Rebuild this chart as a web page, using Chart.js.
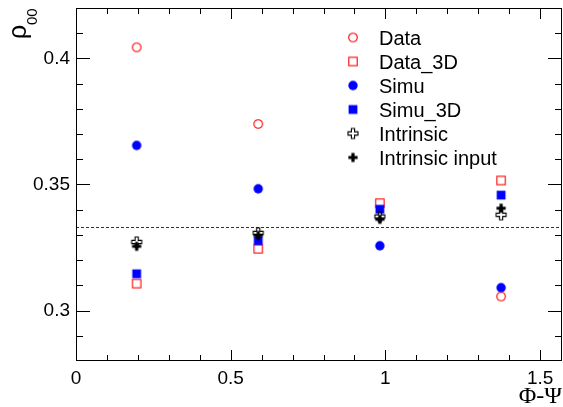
<!DOCTYPE html>
<html lang="en">
<head>
<meta charset="UTF-8">
<title>rho00 vs Phi-Psi</title>
<script src="https://cdn.jsdelivr.net/npm/chart.js@4.4.7/dist/chart.umd.min.js"></script>
<style>
*{margin:0;padding:0}
body{background:#fff;width:563px;height:407px;overflow:hidden}
canvas{display:block}
</style>
</head>
<body>
<canvas id="rho" width="563" height="407"></canvas>
<script>
// bin centres in Phi-Psi and rho00 per sample
const phiPsi = [0.196, 0.589, 0.982, 1.374];
const dataVals = [0.4044, 0.3740, null, 0.3056];
const data3DVals = [0.3107, 0.3245, 0.3426, 0.3516];
const simuVals = [0.3655, 0.3483, 0.3257, 0.3091];
const simu3DVals = [0.3146, 0.3277, 0.3402, 0.3458];
const intrinsicVals = [0.3272, 0.3308, 0.3373, 0.3380];
const intrinsicInputVals = [0.3255, 0.3298, 0.3362, 0.3406];
const refLevel = 1 / 3;

const xTicks = [0, 0.5, 1, 1.5];
const yTicks = [0.3, 0.35, 0.4];
const labels = ['Data', 'Data_3D', 'Simu', 'Simu_3D', 'Intrinsic', 'Intrinsic input'];

const red = '#ff0000', blue = '#0000ff', black = '#000000';
const sans = "'Liberation Sans', Arial, sans-serif";

// marker images (ROOT style 24, 25, 20, 21, 28, 34)
function marker(draw) {
  const c = document.createElement('canvas');
  c.width = c.height = 14;
  const g = c.getContext('2d');
  g.translate(7, 7);
  draw(g);
  return c;
}
function plusPath(g, s, a) {
  g.beginPath();
  g.moveTo(-a, -s); g.lineTo(a, -s); g.lineTo(a, -a); g.lineTo(s, -a);
  g.lineTo(s, a); g.lineTo(a, a); g.lineTo(a, s); g.lineTo(-a, s);
  g.lineTo(-a, a); g.lineTo(-s, a); g.lineTo(-s, -a); g.lineTo(-a, -a);
  g.closePath();
}
const openCircle = marker(g => { g.strokeStyle = red; g.lineWidth = 1.1; g.beginPath(); g.arc(0, 0, 4.3, 0, Math.PI * 2); g.stroke(); });
const openSquare = marker(g => { g.strokeStyle = red; g.lineWidth = 1.1; g.strokeRect(-4.2, -4.2, 8.4, 8.4); });
const fullCircle = marker(g => { g.fillStyle = blue; g.beginPath(); g.arc(0, 0, 4.7, 0, Math.PI * 2); g.fill(); });
const fullSquare = marker(g => { g.fillStyle = blue; g.fillRect(-4.4, -4.4, 8.8, 8.8); });
const openCross = marker(g => { g.strokeStyle = black; g.lineWidth = 1.1; plusPath(g, 5, 1.6); g.stroke(); });
const fullCross = marker(g => { g.fillStyle = black; plusPath(g, 4.6, 1.6); g.fill(); });

const pts = vals => phiPsi.map((x, i) => ({ x, y: vals[i] }));
const styles = [openCircle, openSquare, fullCircle, fullSquare, openCross, fullCross];
const series = [dataVals, data3DVals, simuVals, simu3DVals, intrinsicVals, intrinsicInputVals];

const noPad = s => { s.paddingTop = 0; s.paddingBottom = 0; s.paddingLeft = 0; s.paddingRight = 0; };

const frame = {
  id: 'frame',
  beforeDatasetsDraw(chart) {
    const { ctx, chartArea: a, scales: { x, y } } = chart;
    ctx.save();
    ctx.lineWidth = 1;
    // reference line at 1/3
    const yr = Math.round(y.getPixelForValue(refLevel)) + 0.5;
    ctx.setLineDash([3, 2]);
    ctx.strokeStyle = '#333';
    ctx.beginPath(); ctx.moveTo(a.left, yr); ctx.lineTo(a.right, yr); ctx.stroke();
    ctx.setLineDash([]);
    ctx.strokeStyle = black;
    ctx.strokeRect(a.left + 0.5, a.top + 0.5, a.right - a.left - 1, a.bottom - a.top - 1);
    ctx.beginPath();
    for (let i = 1; i * 0.1 < x.max; i++) {
      const v = i * 0.1;
      const major = xTicks.some(t => Math.abs(t - v) < 1e-6);
      const len = major ? 11 : 6;
      const px = Math.round(x.getPixelForValue(v)) + 0.5;
      ctx.moveTo(px, a.bottom); ctx.lineTo(px, a.bottom - len);
      ctx.moveTo(px, a.top); ctx.lineTo(px, a.top + len);
    }
    for (let i = 1; i < 14; i++) {
      const v = y.min + i * 0.01;
      const major = yTicks.some(t => Math.abs(t - v) < 1e-6);
      const len = major ? 14 : 7;
      const py = Math.round(y.getPixelForValue(v)) + 0.5;
      ctx.moveTo(a.left, py); ctx.lineTo(a.left + len, py);
      ctx.moveTo(a.right, py); ctx.lineTo(a.right - len, py);
    }
    ctx.stroke();
    ctx.restore();
  },
  afterDraw(chart) {
    const { ctx, chartArea: a } = chart;
    ctx.save();
    ctx.fillStyle = black;
    // legend
    ctx.font = '20px ' + sans;
    ctx.textBaseline = 'alphabetic';
    labels.forEach((lab, i) => {
      const cy = 37.5 + i * 24;
      ctx.drawImage(styles[i], 353 - 7, cy - 7);
      ctx.fillText(lab, 379, cy + 7);
    });
    // axis titles
    ctx.font = "24px 'Liberation Serif', 'Times New Roman', serif";
    ctx.textAlign = 'right';
    ctx.fillText('\u03A6-\u03A8', a.right, 403);
    ctx.translate(26, 39);
    ctx.rotate(-Math.PI / 2);
    ctx.textAlign = 'left';
    ctx.font = '25px ' + sans;
    ctx.fillText('\u03C1', 0, 0);
    ctx.font = '15px ' + sans;
    ctx.fillText('00', 14, 11);
    ctx.restore();
  }
};

new Chart(document.getElementById('rho'), {
  type: 'scatter',
  data: {
    datasets: series.map((vals, i) => ({
      label: labels[i],
      data: pts(vals),
      pointStyle: styles[i],
      pointRadius: 5,
      order: series.length - i,
    }))
  },
  options: {
    responsive: false,
    animation: false,
    devicePixelRatio: 1,
    layout: { autoPadding: false, padding: { top: 8, right: 1, left: 0, bottom: 0 } },
    plugins: { legend: { display: false }, tooltip: { enabled: false } },
    scales: {
      x: {
        type: 'linear', min: 0, max: 1.5708,
        afterBuildTicks: s => { s.ticks = xTicks.map(v => ({ value: v })); },
        afterFit: s => { s.height = 46; noPad(s); },
        grid: { display: false, drawTicks: false },
        border: { display: false },
        ticks: { color: black, font: { family: sans, size: 19 }, padding: 6, maxRotation: 0, autoSkip: false, callback: v => String(v) },
      },
      y: {
        type: 'linear', min: 0.28, max: 0.42,
        afterBuildTicks: s => { s.ticks = yTicks.map(v => ({ value: v })); },
        afterFit: s => { s.width = 76; noPad(s); },
        grid: { display: false, drawTicks: false },
        border: { display: false },
        ticks: { color: black, font: { family: sans, size: 19 }, padding: 6, autoSkip: false, callback: v => String(v) },
      },
    },
  },
  plugins: [frame],
});
</script>
</body>
</html>
